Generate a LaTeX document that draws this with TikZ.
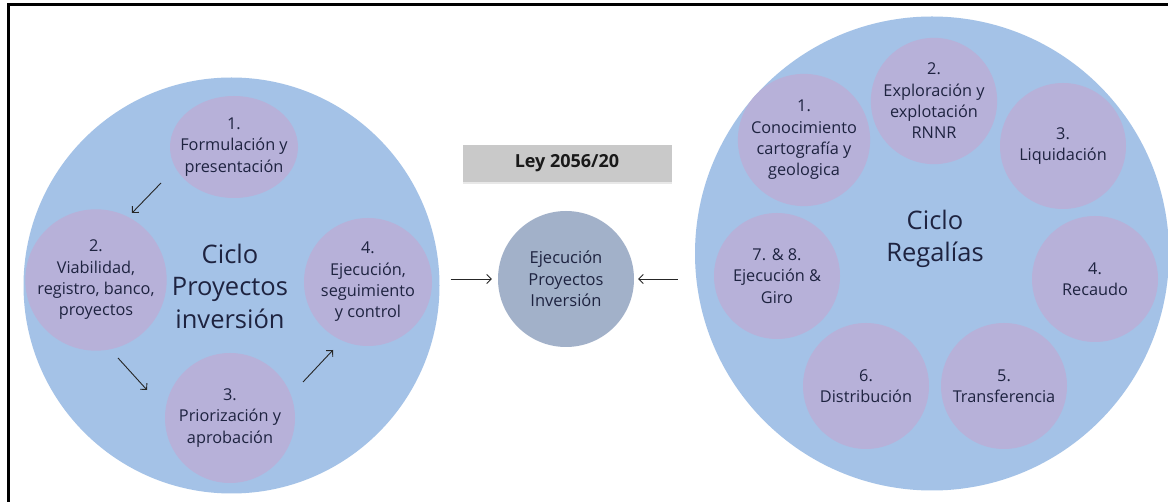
\documentclass[tikz,border=0pt]{standalone}
\usepackage{fontspec}
\setmainfont{Open Sans}
\usetikzlibrary{arrows.meta,shapes.geometric,shadows,calc}

\definecolor{cyclebg}{HTML}{A4C2E7}
\definecolor{stagebg}{HTML}{B7B1D9}
\definecolor{hubbg}{HTML}{A2B1C9}
\definecolor{inktext}{HTML}{1E2340}
\definecolor{tapegray}{HTML}{C9C9C9}

\tikzset{
  bigcycle/.style={circle, fill=cyclebg, inner sep=0pt},
  stagefont/.style={text=inktext, font=\fontsize{16.3}{21.3}\selectfont},
  stage/.style={circle, fill=stagebg, inner sep=0pt, minimum size=#1, align=center, stagefont},
  stage/.default=126pt,
  cycletitle/.style={align=center, text=inktext, font=\fontsize{25.5}{32.5}\selectfont},
  flow/.style={draw=black!85, line width=0.9pt, -{Straight Barb[length=4.5pt,width=9pt]}},
}

\begin{document}
\begin{tikzpicture}[x=1pt,y=-1pt]
  \useasboundingbox (0,0) rectangle (1168,502);
  \fill[white] (0,0) rectangle (1168,502);

  % page frame (top and left rules)
  \draw[line width=2.4pt, black] (8.5,502) -- (8.5,4.5) -- (1168,4.5);

  % ---------- investment project cycle ----------
  \node[bigcycle, minimum size=416pt] (L) at (231.5,285.5) {};
  \node[ellipse, fill=stagebg, inner sep=0pt, minimum width=128pt, minimum height=102pt]
        (p1) at (234,147) {};
  \node[align=center, stagefont, inner sep=0pt] (p1t) at (p1) {1.\\Formulación y\\presentación};
  \node[stage=128pt] (p2) at (96,280) {2.\\Viabilidad,\\registro, banco,\\proyectos};
  \node[stage=130pt] (p3) at (230,418) {3.\\Priorización y\\aprobación};
  \node[stage=128pt] (p4) at (368,282) {4.\\Ejecución,\\seguimiento\\y control};
  \node[cycletitle] (Lt) at (230,286) {Ciclo\\Proyectos\\inversión};

  \coordinate (a12s) at (161,183);  \coordinate (a12e) at (132,213);
  \coordinate (a23s) at (118,358);  \coordinate (a23e) at (147,390);
  \coordinate (a34s) at (303,382);  \coordinate (a34e) at (333,350);
  \draw[flow] (a12s) -- (a12e);
  \draw[flow] (a23s) -- (a23e);
  \draw[flow] (a34s) -- (a34e);

  % ---------- central hub ----------
  \node[fill=tapegray, minimum width=209pt, minimum height=37pt, inner sep=0pt,
        drop shadow={opacity=0.18, shadow xshift=0pt, shadow yshift=-1.6pt},
        font=\bfseries\fontsize{18}{20}\selectfont, text=black!90]
        (ley) at (567,163.5) {Ley 2056/20};
  \node[circle, fill=hubbg, minimum size=136pt, inner sep=0pt, align=center,
        text=inktext, font=\fontsize{16.5}{21.5}\selectfont]
        (M) at (566,279) {Ejecución\\Proyectos\\Inversión};

  % ---------- royalties cycle ----------
  \node[bigcycle, minimum size=474pt] (R) at (932,253.5) {};
  \node[stage] (r1) at (804,140) {1.\\Conocimiento\\cartografía y\\geologica};
  \node[stage] (r2) at (934,101) {2.\\Exploración y\\explotación\\RNNR};
  \node[stage] (r3) at (1063,146) {3.\\Liquidación};
  \node[stage] (r4) at (1095,279) {4.\\Recaudo};
  \node[stage] (r5) at (1004,386) {5.\\Transferencia};
  \node[stage] (r6) at (866,386) {6.\\Distribución};
  \node[stage] (r78) at (777,276) {7. \& 8.\\Ejecución \&\\Giro};
  \node[cycletitle] (Rt) at (935,239) {Ciclo\\Regalías};

  % both cycles feed the hub
  \draw[flow, shorten <=11pt, shorten >=6pt] (M.west -| L.east) -- (M.west);
  \draw[flow, shorten <=17pt, shorten >=4pt] (M.east -| R.west) -- (M.east);
\end{tikzpicture}
\end{document}
